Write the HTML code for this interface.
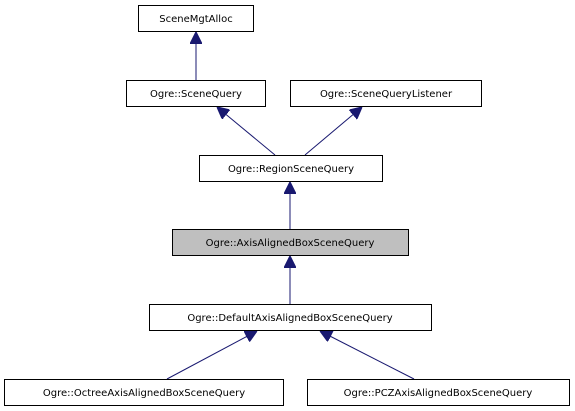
<!DOCTYPE html>
<html><head><style>
html,body{margin:0;padding:0;background:#fff;width:575px;height:411px;overflow:hidden}
</style></head><body>
<svg width="575" height="411" xmlns="http://www.w3.org/2000/svg" font-family="DejaVu Sans, sans-serif" font-size="10">
<defs>
<marker id="a" viewBox="0 0 10 10" refX="10" refY="5" markerWidth="12" markerHeight="12" markerUnits="userSpaceOnUse" orient="auto">
<path d="M0,0 L10,5 L0,10 z" fill="#191970" stroke="#191970"/>
</marker>
</defs>
<g stroke="#191970" stroke-width="1" fill="none">
<line x1="196" y1="80" x2="196" y2="32" marker-end="url(#a)"/>
<line x1="275" y1="155" x2="217" y2="107" marker-end="url(#a)"/>
<line x1="305" y1="155" x2="362" y2="107" marker-end="url(#a)"/>
<line x1="290" y1="229" x2="290" y2="182" marker-end="url(#a)"/>
<line x1="290" y1="304" x2="290" y2="256" marker-end="url(#a)"/>
<line x1="167" y1="379" x2="257" y2="331" marker-end="url(#a)"/>
<line x1="414" y1="379" x2="320" y2="331" marker-end="url(#a)"/>
</g>
<g stroke="#000" stroke-width="1" fill="#fff">
<rect x="138.5" y="5.5" width="115" height="26"/>
<rect x="126.5" y="80.5" width="139" height="26"/>
<rect x="290.5" y="80.5" width="191" height="26"/>
<rect x="199.5" y="155.5" width="183" height="26"/>
<rect x="172.5" y="229.5" width="236" height="26" fill="#bfbfbf"/>
<rect x="149.5" y="304.5" width="282" height="26"/>
<rect x="4.5" y="379.5" width="279" height="26"/>
<rect x="307.5" y="379.5" width="262" height="26"/>
</g>
<g fill="#000" text-anchor="middle">
<text x="196" y="22">SceneMgtAlloc</text>
<text x="196" y="97">Ogre::SceneQuery</text>
<text x="386" y="97">Ogre::SceneQueryListener</text>
<text x="291" y="172">Ogre::RegionSceneQuery</text>
<text x="290" y="246">Ogre::AxisAlignedBoxSceneQuery</text>
<text x="290" y="321">Ogre::DefaultAxisAlignedBoxSceneQuery</text>
<text x="144" y="396">Ogre::OctreeAxisAlignedBoxSceneQuery</text>
<text x="438" y="396">Ogre::PCZAxisAlignedBoxSceneQuery</text>
</g>
</svg>
</body></html>
